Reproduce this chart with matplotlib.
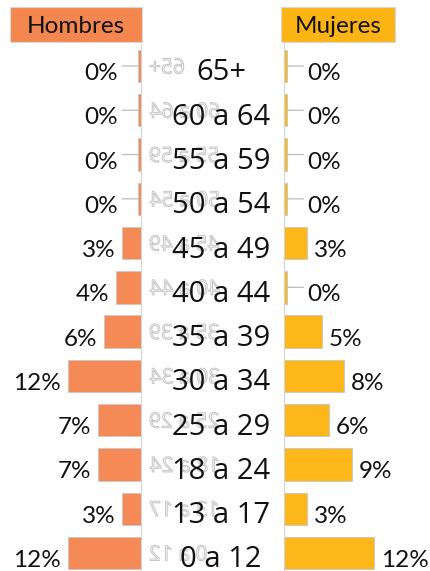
import matplotlib
matplotlib.use("Agg")
import matplotlib.pyplot as plt
import matplotlib.transforms as mtransforms
from matplotlib.textpath import TextPath
from matplotlib.patches import PathPatch, Rectangle
from matplotlib.font_manager import FontProperties

# data (top row first)
ages = ["65+", "60 a 64", "55 a 59", "50 a 54", "45 a 49", "40 a 44",
        "35 a 39", "30 a 34", "25 a 29", "18 a 24", "13 a 17", "0 a 12"]
hombres = [0.4, 0.4, 0.4, 0.4, 3, 4, 6, 12, 7, 7, 3, 12]
mujeres = [0.4, 0.4, 0.4, 0.4, 3, 0.4, 5, 8, 6, 9, 3, 12]

W, H = 431, 571
c_hom = "#F58A56"
c_muj = "#FDB71A"
axis_gray = "#d4d4d4"
ink = "#111111"

fig = plt.figure(figsize=(W / 100, H / 100), dpi=100)

row0, step = 66, 44.27
top_px = row0 - step / 2
bot_px = row0 + step * 11.5
ax_b = (H - bot_px) / H
ax_h = (bot_px - top_px) / H

axl = fig.add_axes([0, ax_b, 140.5 / W, ax_h])
axr = fig.add_axes([284.5 / W, ax_b, (W - 284.5) / W, ax_h])

rows = list(range(len(ages)))
axl.barh(rows, hombres, height=0.73, color=c_hom, edgecolor="#c8c8c8", linewidth=0.6)
axr.barh(rows, mujeres, height=0.73, color=c_muj, edgecolor="#c8c8c8", linewidth=0.6)

axl.set_xlim(140.5 / 6.07, 0)
axr.set_xlim(0, (W - 284.5) / 7.45)
for ax in (axl, axr):
    ax.set_ylim(11.5, -0.5)
    ax.set_xticks([])
    ax.set_yticks([])
    for s in ax.spines.values():
        s.set_visible(False)
axl.spines["right"].set_visible(True)
axl.spines["right"].set_color(axis_gray)
axr.spines["left"].set_visible(True)
axr.spines["left"].set_color(axis_gray)

# percent labels
for ax, vals, side in ((axl, hombres, -1), (axr, mujeres, 1)):
    for i, v in enumerate(vals):
        gap = 7 if v >= 1 else 20
        if v < 1:
            ax.annotate("", xy=(v, i), xytext=(side * 16, 0), textcoords="offset pixels",
                        arrowprops=dict(arrowstyle="-", color="#bdbdbd", lw=0.9,
                                        shrinkA=0, shrinkB=0))
        ax.annotate(f"{v:.0f}%", xy=(v, i), xytext=(side * gap, -14),
                    textcoords="offset pixels", ha="right" if side < 0 else "left",
                    va="baseline", fontsize=17.5, family="Lato", color=ink)

# age labels with faint mirrored ghost behind
fp = FontProperties(family="Open Sans")
for i, lab in enumerate(ages):
    c = row0 + step * i
    tp = TextPath((0, 0), lab, size=21, prop=fp)
    bb = tp.get_extents()
    tr = mtransforms.Affine2D().scale(-1, 1).translate(bb.x1 + 150, (H - c) - (bb.y0 + bb.y1) / 2)
    fig.add_artist(PathPatch(tp, transform=tr, facecolor="white", edgecolor="#c4c4c4", lw=0.7))
    fig.text(221 / W, (H - (c + 14.5)) / H, lab, ha="center", va="baseline",
             fontsize=21, family="Open Sans", color=ink)

# header boxes
for x0, x1, txt, col in ((10, 142, "Hombres", "#F4874F"), (281, 395, "Mujeres", "#FCB415")):
    fig.add_artist(Rectangle((x0 / W, (H - 42) / H), (x1 - x0) / W, 35 / H,
                             transform=fig.transFigure, facecolor=col,
                             edgecolor="#d8d8d8", lw=0.8))
    fig.text((x0 + x1) / 2 / W, (H - 33) / H, txt, ha="center", va="baseline",
             fontsize=17.5, family="Lato", color=ink)

fig.savefig("out.png", dpi=100)
